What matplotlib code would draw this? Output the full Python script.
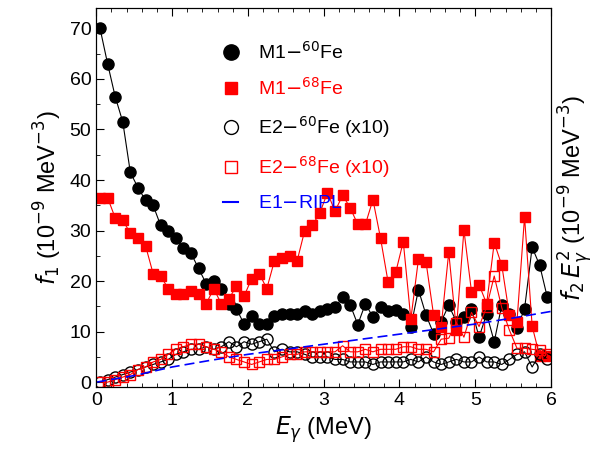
import numpy as np
import matplotlib.pyplot as plt
from matplotlib.ticker import MultipleLocator
from matplotlib.lines import Line2D

plt.rcParams['font.family'] = ['Liberation Sans', 'DejaVu Sans']

# energy grid (MeV)
eg = np.round(np.arange(0.05, 6.0, 0.1), 2)

m1_60 = [70, 63, 56.5, 51.5, 41.5, 38.5, 36, 35, 31, 30,
         28.5, 26.5, 25.5, 22.5, 19.5, 20, 18.5, 15.5, 14.5, 11.5,
         13, 11.5, 11.5, 13, 13.5, 13.5, 13.5, 14, 13.5, 14,
         14.5, 14.8, 16.8, 15.3, 11.4, 15.5, 12.9, 14.8, 14, 14.3,
         13.4, 10.9, 18.3, 13.3, 9.6, 12, 15.2, 12, 12.9, 14.5,
         8.9, 13.5, 8, 15.3, 13.5, 10.7, 14.5, 26.7, 23.1, 16.8]
m1_68 = [36.5, 36.5, 32.5, 32, 29.5, 28.5, 27, 21.5, 21, 18.5,
         17.5, 17.5, 18, 17.5, 15.5, 18.5, 15.5, 16.5, 19, 17,
         20.5, 21.5, 18.5, 24, 24.5, 25, 24, 30, 31, 33.5,
         37.5, 33.8, 37, 34.5, 31.2, 31.2, 36.1, 28.5, 19.8, 21.7,
         27.8, 12.5, 24.3, 23.8, 13.3, 11, 25.7, 10.4, 30.1, 17.9,
         19.3, 15.5, 27.6, 23.1, 13.3, 12, 32.7, 11.1, 5.1, 5.1]
e2_60 = [0, 0.5, 1, 1.5, 2, 2.5, 3, 3.5, 4, 4.5,
         5.5, 6, 6.5, 6.5, 7, 6.5, 7, 8, 7, 8,
         7.5, 8, 8.5, 6, 6.5, 6, 6, 5.5, 5, 5,
         5, 4.5, 4.5, 4, 4, 4, 3.5, 4, 4, 4,
         4, 4.5, 4, 5, 4, 3.5, 4, 4.5, 4, 4,
         5, 4, 4, 3.5, 4.5, 5.5, 6, 3, 5.5, 4.5]
e2_68 = [0, 0, 0.5, 1, 1.5, 2.5, 3, 4, 4.5, 5.5,
         6.5, 7, 7.5, 7.5, 7, 6.5, 6, 5, 4.5, 4,
         3.5, 4, 4.5, 4.5, 5, 5.5, 5.5, 6, 6, 6,
         6, 6, 7.2, 6, 6, 6.5, 6, 6.5, 6.5, 6.5,
         7, 7, 6.5, 6.5, 6, 8.5, 8.7, 11.8, 8.9, 13.8,
         11, 14.9, 21, 14.7, 10.3, 6.7, 6.7, 6.5, 6.3, 5.5]
e1_x = [0, 0.5, 1, 1.5, 2, 2.5, 3, 3.5, 4, 4.5, 5, 5.5, 6]
e1_y = [0, 1.3, 3, 4.3, 5.5, 6.5, 7.5, 8.5, 9.5, 10.5, 11.5, 12.7, 14]

fig = plt.figure(figsize=(6.13, 4.55), dpi=100)
ax = fig.add_axes([0.157, 0.149, 0.742, 0.833])

ax.plot(eg, m1_60, 'k-', lw=0.8, marker='o', ms=8)
ax.plot(eg, m1_68, '-', color='red', lw=0.8, marker='s', ms=7)
ax.plot(eg, e2_60, 'k-', lw=0.8, marker='o', ms=8, mfc='none')
ax.plot(eg, e2_68, '-', color='red', lw=0.8, marker='s', ms=7, mfc='none')
ax.plot(e1_x, e1_y, '--', color='blue', lw=1.2, dashes=(6, 3))

handles = [
    Line2D([], [], ls='none', marker='o', ms=11, color='black'),
    Line2D([], [], ls='none', marker='s', ms=8, color='red'),
    Line2D([], [], ls='none', marker='o', ms=10, color='black', mfc='none'),
    Line2D([], [], ls='none', marker='s', ms=8, color='red', mfc='none'),
    Line2D([0.3, 0.7], [0, 0], ls='-', lw=1.5, color='blue'),
]
labels = [r'M1$-^{60}$Fe', r'M1$-^{68}$Fe', r'E2$-^{60}$Fe (x10)',
          r'E2$-^{68}$Fe (x10)', 'E1$-$RIPL']

ax.set_xlim(0, 6)
ax.set_ylim(-1, 74)
ax.xaxis.set_major_locator(MultipleLocator(1))
ax.xaxis.set_minor_locator(MultipleLocator(0.2))
ax.yaxis.set_major_locator(MultipleLocator(10))
ax.yaxis.set_minor_locator(MultipleLocator(5))
ax.tick_params(which='both', direction='in', top=True, right=True, labelsize=14)
ax.tick_params(which='major', length=6)
ax.tick_params(which='minor', length=3)

ax.set_xlabel(r'$E_\gamma$ (MeV)', fontsize=17)
ax.set_ylabel(r'$f_1$ (10$^{-9}$ MeV$^{-3}$)', fontsize=17)
ax2 = ax.twinx()
ax2.set_ylim(ax.get_ylim())
ax2.set_yticks([])
ax2.set_ylabel(r'$f_2\,E_\gamma^{2}$ (10$^{-9}$ MeV$^{-3}$)', fontsize=17)

leg = ax.legend(handles, labels, loc='upper left', bbox_to_anchor=(0.24, 0.96),
                frameon=False, fontsize=14, handlelength=0.8, handletextpad=1.0,
                labelspacing=0.75)
for t, c in zip(leg.get_texts(), ['black', 'red', 'black', 'red', 'blue']):
    t.set_color(c)

fig.savefig('out.png', dpi=100)
